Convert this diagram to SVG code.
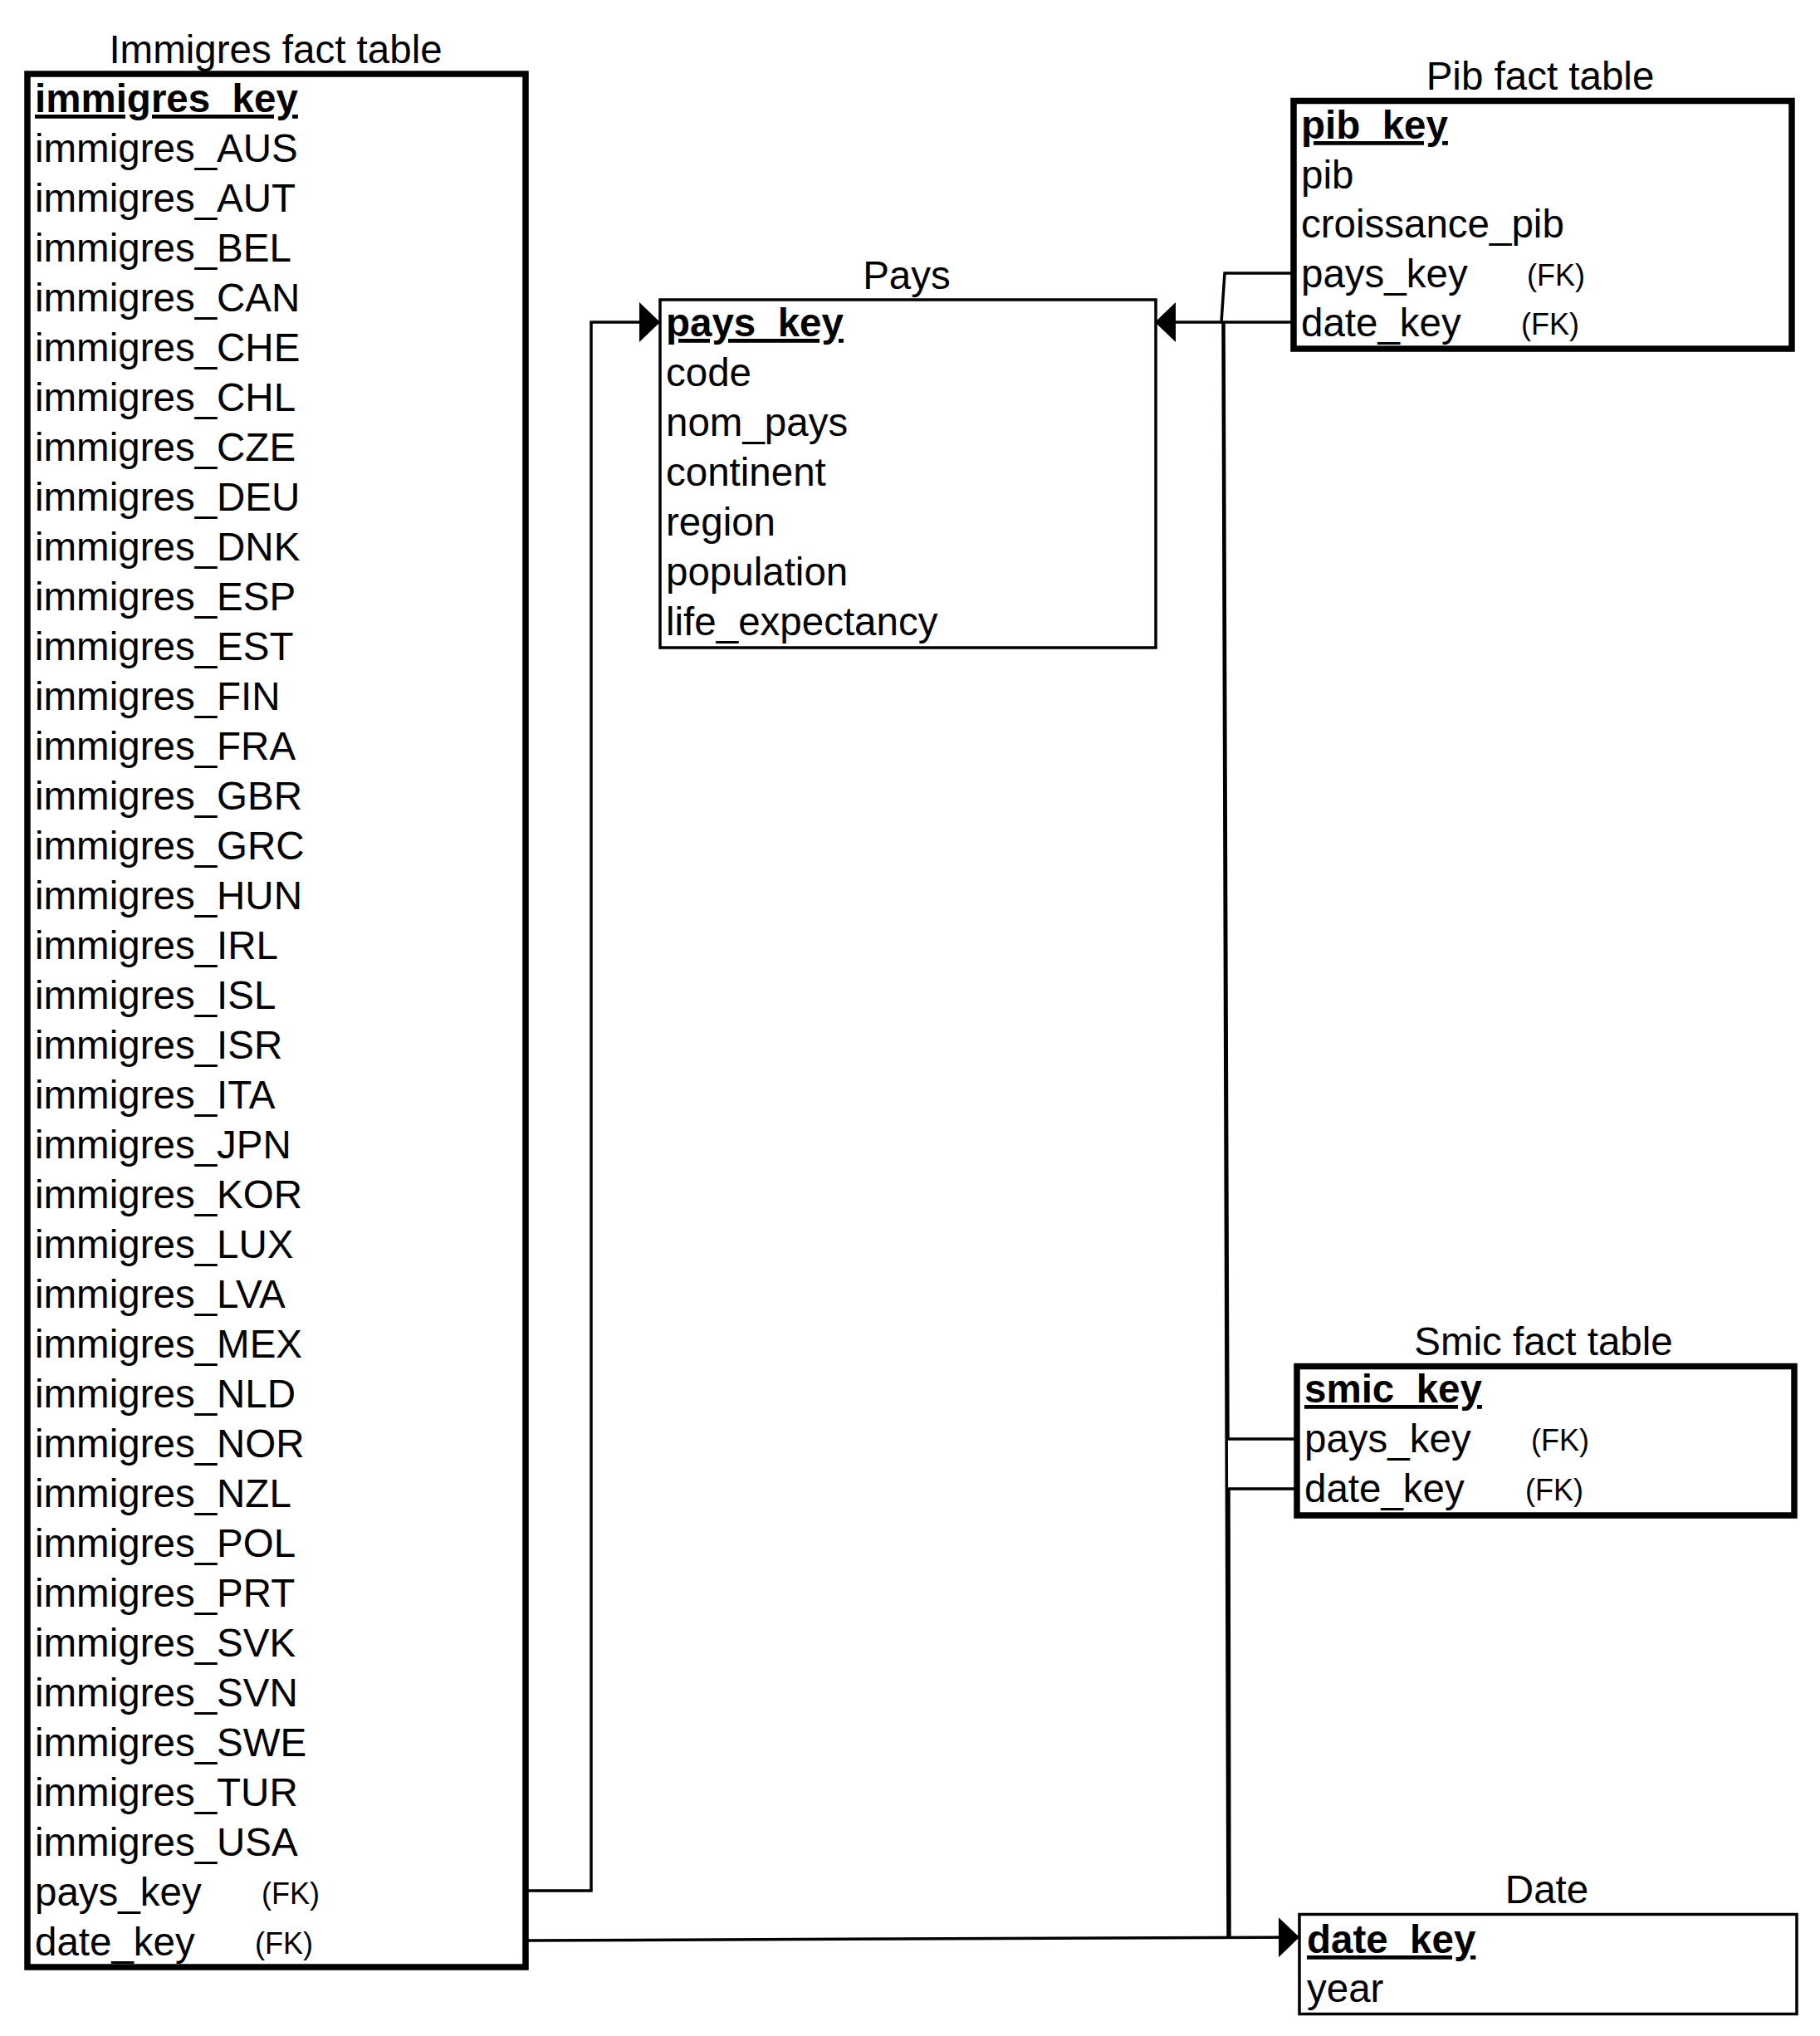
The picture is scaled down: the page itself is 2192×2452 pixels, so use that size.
<svg xmlns="http://www.w3.org/2000/svg" width="2192" height="2452" viewBox="0 0 2192 2452">
<style>
  text { font-family: "Liberation Sans", Arial, sans-serif; fill: #000; }
  .t { font-size: 47.5px; }
  .title { font-size: 47.5px; text-anchor: middle; }
  .pk { font-size: 47.5px; font-weight: bold; text-decoration: underline; }
  .fk { font-size: 36px; }
  .thick { fill: #fff; stroke: #000; stroke-width: 7.5; }
  .thin { fill: #fff; stroke: #000; stroke-width: 3.5; }
  .conn { fill: none; stroke: #000; stroke-width: 3.5; stroke-linejoin: miter; }
</style>
<defs>
  <marker id="arrow" markerUnits="userSpaceOnUse" viewBox="0 0 25 48" refX="25" refY="24" markerWidth="25" markerHeight="48" orient="auto">
    <path d="M0,0 L25,24 L0,48 Z" fill="#000"/>
  </marker>
</defs>
<rect width="2192" height="2452" fill="#fff"/>

<g id="immigres">
  <text class="title" x="332" y="76">Immigres fact table</text>
  <rect class="thick" x="33" y="89" width="600" height="2280"/>
  <text class="pk" x="42" y="135">immigres_key</text>
  <text class="t" x="42" y="195">immigres_AUS</text>
  <text class="t" x="42" y="255">immigres_AUT</text>
  <text class="t" x="42" y="315">immigres_BEL</text>
  <text class="t" x="42" y="375">immigres_CAN</text>
  <text class="t" x="42" y="435">immigres_CHE</text>
  <text class="t" x="42" y="495">immigres_CHL</text>
  <text class="t" x="42" y="555">immigres_CZE</text>
  <text class="t" x="42" y="615">immigres_DEU</text>
  <text class="t" x="42" y="675">immigres_DNK</text>
  <text class="t" x="42" y="735">immigres_ESP</text>
  <text class="t" x="42" y="795">immigres_EST</text>
  <text class="t" x="42" y="855">immigres_FIN</text>
  <text class="t" x="42" y="915">immigres_FRA</text>
  <text class="t" x="42" y="975">immigres_GBR</text>
  <text class="t" x="42" y="1035">immigres_GRC</text>
  <text class="t" x="42" y="1095">immigres_HUN</text>
  <text class="t" x="42" y="1155">immigres_IRL</text>
  <text class="t" x="42" y="1215">immigres_ISL</text>
  <text class="t" x="42" y="1275">immigres_ISR</text>
  <text class="t" x="42" y="1335">immigres_ITA</text>
  <text class="t" x="42" y="1395">immigres_JPN</text>
  <text class="t" x="42" y="1455">immigres_KOR</text>
  <text class="t" x="42" y="1515">immigres_LUX</text>
  <text class="t" x="42" y="1575">immigres_LVA</text>
  <text class="t" x="42" y="1635">immigres_MEX</text>
  <text class="t" x="42" y="1695">immigres_NLD</text>
  <text class="t" x="42" y="1755">immigres_NOR</text>
  <text class="t" x="42" y="1815">immigres_NZL</text>
  <text class="t" x="42" y="1875">immigres_POL</text>
  <text class="t" x="42" y="1935">immigres_PRT</text>
  <text class="t" x="42" y="1995">immigres_SVK</text>
  <text class="t" x="42" y="2055">immigres_SVN</text>
  <text class="t" x="42" y="2115">immigres_SWE</text>
  <text class="t" x="42" y="2175">immigres_TUR</text>
  <text class="t" x="42" y="2235">immigres_USA</text>
  <text class="t" x="42" y="2295">pays_key</text>
  <text class="fk" x="315" y="2293">(FK)</text>
  <text class="t" x="42" y="2355">date_key</text>
  <text class="fk" x="307" y="2353">(FK)</text>
</g>

<g id="pays">
  <text class="title" x="1092" y="348">Pays</text>
  <rect class="thin" x="795" y="361" width="597" height="419"/>
  <text class="pk" x="802" y="405">pays_key</text>
  <text class="t" x="802" y="465">code</text>
  <text class="t" x="802" y="525">nom_pays</text>
  <text class="t" x="802" y="585">continent</text>
  <text class="t" x="802" y="645">region</text>
  <text class="t" x="802" y="705">population</text>
  <text class="t" x="802" y="765">life_expectancy</text>
</g>

<g id="pib">
  <text class="title" x="1855" y="108">Pib fact table</text>
  <rect class="thick" x="1558" y="121.5" width="600" height="298.5"/>
  <text class="pk" x="1567" y="167">pib_key</text>
  <text class="t" x="1567" y="226.5">pib</text>
  <text class="t" x="1567" y="286">croissance_pib</text>
  <text class="t" x="1567" y="345.5">pays_key</text>
  <text class="fk" x="1839" y="344">(FK)</text>
  <text class="t" x="1567" y="405">date_key</text>
  <text class="fk" x="1832" y="403">(FK)</text>
</g>

<g id="smic">
  <text class="title" x="1859" y="1632">Smic fact table</text>
  <rect class="thick" x="1562" y="1645.5" width="599" height="179.5"/>
  <text class="pk" x="1571" y="1689">smic_key</text>
  <text class="t" x="1571" y="1749">pays_key</text>
  <text class="fk" x="1844" y="1747">(FK)</text>
  <text class="t" x="1571" y="1809">date_key</text>
  <text class="fk" x="1837" y="1807">(FK)</text>
</g>

<g id="date">
  <text class="title" x="1863" y="2292">Date</text>
  <rect class="thin" x="1565" y="2305.5" width="599" height="120"/>
  <text class="pk" x="1574" y="2352">date_key</text>
  <text class="t" x="1574" y="2411">year</text>
</g>

<g id="connectors">
  <path class="conn" d="M636,2277 H712 V388 H795" marker-end="url(#arrow)"/>
  <path class="conn" d="M636,2337 L1565,2333" marker-end="url(#arrow)"/>
  <path class="conn" d="M1555,329 H1475 L1471,388 H1391" marker-end="url(#arrow)"/>
  <path class="conn" d="M1555,388 H1473 L1479,2333"/>
  <path class="conn" d="M1559,1733 H1479 L1474,388"/>
  <path class="conn" d="M1559,1793 H1480 L1481,2333"/>
</g>
</svg>
